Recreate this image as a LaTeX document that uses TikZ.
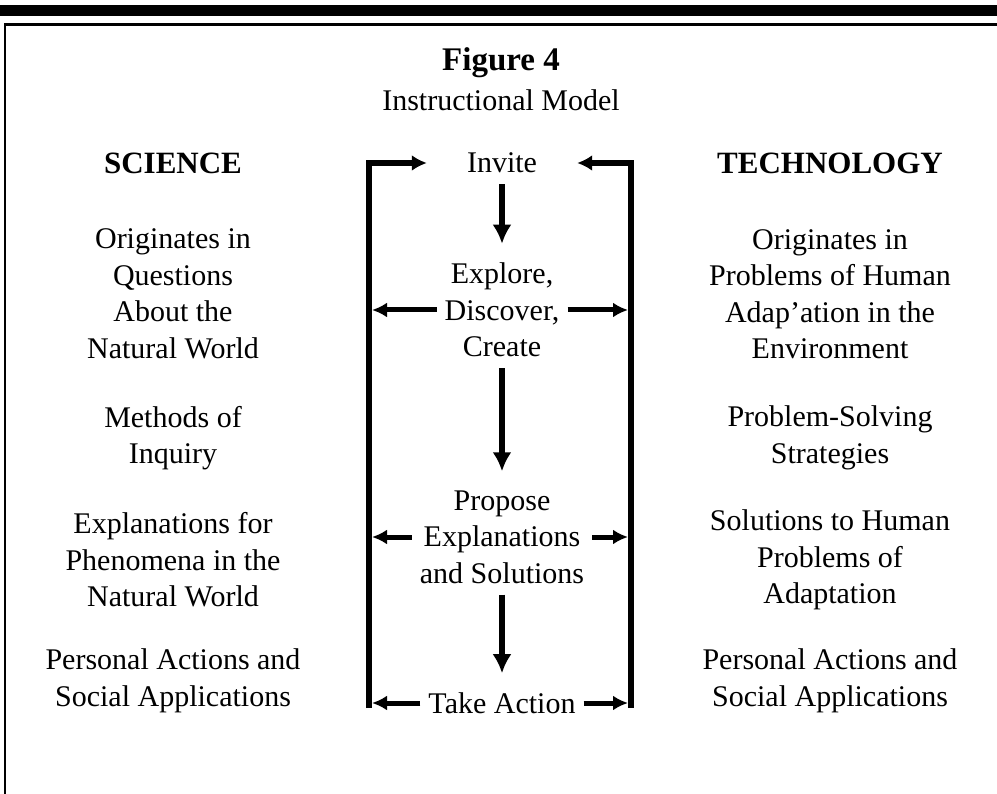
\documentclass[tikz,border=0pt]{standalone}
\usepackage{fontspec}
\setmainfont{Liberation Serif}
\usetikzlibrary{arrows.meta}
\begin{document}
\begin{tikzpicture}[x=1pt,y=-1pt,
  txt/.style={align=center, font=\fontsize{30}{36.5}\selectfont, inner sep=0pt},
  head/.style={align=center, font=\fontsize{31}{36.5}\selectfont\bfseries, inner sep=0pt},
  stage/.style={txt, inner sep=8pt},
  flow/.style={line width=6pt, -{Latex[length=19pt,width=19pt]}, shorten <=3pt, shorten >=11pt},
  side/.style={line width=5pt, -{Latex[length=15pt,width=15pt]}, shorten >=3pt},
  frame/.style={line width=6pt, line join=miter, -{Latex[length=15pt,width=16pt]}}]
\useasboundingbox (0,0) rectangle (997,794);

% page rules
\fill (0,5) rectangle (997,16);
\draw[line width=3pt] (4,25) -- (997,25);
\draw[line width=2.5pt] (5,24) -- (5,794);

% title
\node[head, font=\fontsize{33}{36.5}\selectfont\bfseries] (fig) at (501,63) {Figure 4};
\node[txt] (sub) at (501,100) {Instructional Model};

% left column
\node[head] (sci) at (173,163) {SCIENCE};
\node[txt] (s1) at (173,294) {Originates in\\Questions\\About the\\Natural World};
\node[txt] (s2) at (173,438) {Methods of\\Inquiry};
\node[txt] (s3) at (173,560) {Explanations for\\Phenomena in the\\Natural World};
\node[txt] (s4) at (173,681) {Personal Actions and\\Social Applications};

% right column
\node[head] (tech) at (830,163) {TECHNOLOGY};
\node[txt] (t1) at (830,294) {Originates in\\Problems of Human\\Adap'ation in the\\Environment};
\node[txt] (t2) at (830,438) {Problem-Solving\\Strategies};
\node[txt] (t3) at (830,560) {Solutions to Human\\Problems of\\Adaptation};
\node[txt] (t4) at (830,681) {Personal Actions and\\Social Applications};

% instructional cycle
\node[stage] (invite) at (502,163) {Invite};
\node[stage] (explore) at (502,310) {Explore,\\Discover,\\Create};
\node[stage] (propose) at (502,537) {Propose\\Explanations\\and Solutions};
\node[stage] (action) at (502,703) {Take Action};

\coordinate (lt) at (369,163);
\coordinate (lb) at (369,708);
\coordinate (rt) at (631,163);
\coordinate (rb) at (631,708);

% return loops back to Invite
\draw[frame, shorten >=32pt] (lb) -- (lt) -- (invite.west);
\draw[frame, shorten >=32pt] (rb) -- (rt) -- (invite.east);

% main sequence
\draw[flow] (invite) -- (explore);
\draw[flow] (explore) -- (propose);
\draw[flow] (propose) -- (action);

% branches out to the loops
\draw[side] (explore.west) -- (explore.west -| lt);
\draw[side] (explore.east) -- (explore.east -| rt);
\draw[side] (propose.west) -- (propose.west -| lt);
\draw[side] (propose.east) -- (propose.east -| rt);
\draw[side] (action.west) -- (action.west -| lb);
\draw[side] (action.east) -- (action.east -| rb);
\end{tikzpicture}
\end{document}
